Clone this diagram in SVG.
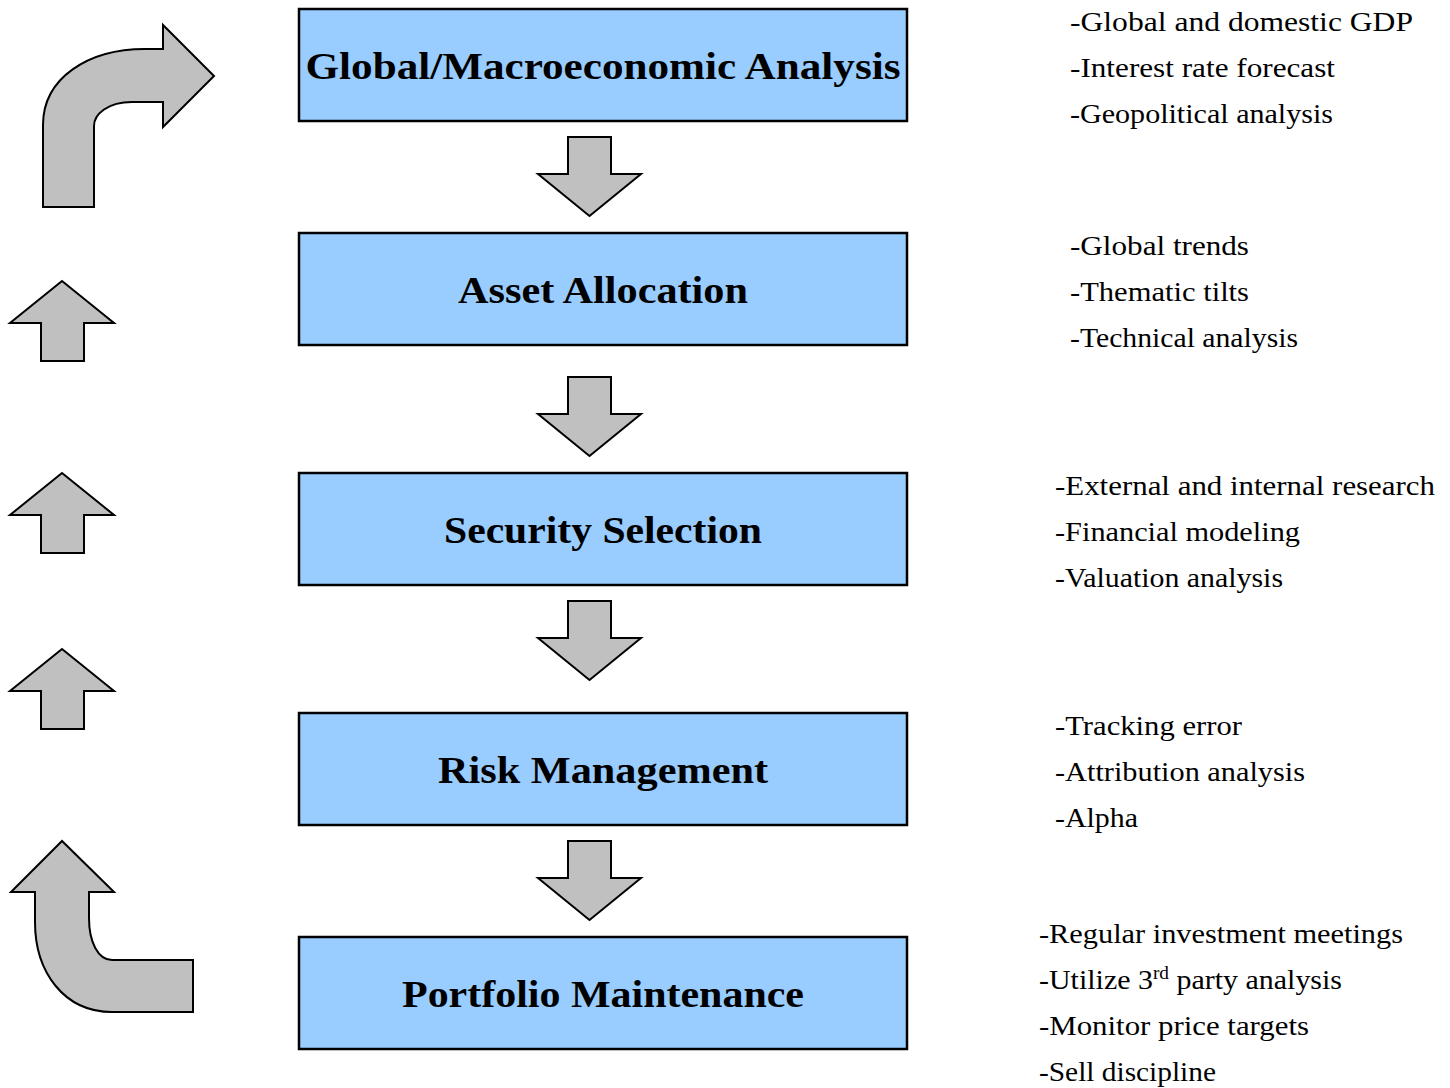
<svg xmlns="http://www.w3.org/2000/svg" width="1450" height="1088" viewBox="0 0 1450 1088">
  <style>
    .box { fill: #99ccff; stroke: #000; stroke-width: 2.5; }
    .arrow { fill: #c0c0c0; stroke: #000; stroke-width: 2; stroke-linejoin: miter; }
    .title { font-family: "Liberation Serif", "Times New Roman", serif; font-weight: bold; font-size: 38px; fill: #000; text-anchor: middle; }
    .note { font-family: "Liberation Serif", "Times New Roman", serif; font-size: 28px; fill: #000; }
  </style>
  <defs>
    <!-- block arrow pointing down, origin at top-left of the shaft -->
    <polygon id="downArrow" points="0,0 43,0 43,37 73,37 21.5,79 -30,37 0,37"/>
    <!-- block arrow pointing up, origin at the tip -->
    <polygon id="upArrow" points="0,0 52,42 22,42 22,80 -21,80 -21,42 -52,42"/>
  </defs>
  <rect width="1450" height="1088" fill="#fff"/>

  <!-- process steps -->
  <g id="step-macro">
    <rect class="box" x="299" y="9" width="608" height="112"/>
    <text class="title" x="603" y="79" textLength="595" lengthAdjust="spacingAndGlyphs">Global/Macroeconomic Analysis</text>
  </g>
  <g id="step-allocation">
    <rect class="box" x="299" y="233" width="608" height="112"/>
    <text class="title" x="603" y="303" textLength="290" lengthAdjust="spacingAndGlyphs">Asset Allocation</text>
  </g>
  <g id="step-selection">
    <rect class="box" x="299" y="473" width="608" height="112"/>
    <text class="title" x="603" y="543" textLength="318" lengthAdjust="spacingAndGlyphs">Security Selection</text>
  </g>
  <g id="step-risk">
    <rect class="box" x="299" y="713" width="608" height="112"/>
    <text class="title" x="603" y="783" textLength="330" lengthAdjust="spacingAndGlyphs">Risk Management</text>
  </g>
  <g id="step-maintenance">
    <rect class="box" x="299" y="937" width="608" height="112"/>
    <text class="title" x="603" y="1007" textLength="402" lengthAdjust="spacingAndGlyphs">Portfolio Maintenance</text>
  </g>

  <!-- connectors between steps and the feedback loop on the left -->
  <g id="connectors">
    <use href="#downArrow" class="arrow" x="568" y="137"/>
    <use href="#downArrow" class="arrow" x="568" y="377"/>
    <use href="#downArrow" class="arrow" x="568" y="601"/>
    <use href="#downArrow" class="arrow" x="568" y="841"/>

    <use href="#upArrow" class="arrow" x="62" y="281"/>
    <use href="#upArrow" class="arrow" x="62" y="473"/>
    <use href="#upArrow" class="arrow" x="62" y="649"/>

    <!-- bent arrow, top: up then right -->
    <path class="arrow" d="M43,207 L43,125 C43,78 88,49 145,49 L163,49 L163,25 L214,76 L163,127 L163,102 L132,102 C108,102 94,114 94,126 L94,207 Z"/>
    <!-- bent arrow, bottom: left then up -->
    <path class="arrow" d="M193,1012 L112,1012 C64,1012 35,972 35,922 L35,892 L11,892 L62,841 L114,892 L89,892 L89,918 C89,942 98,960 112,960 L193,960 Z"/>
  </g>

  <!-- notes beside each step -->
  <g id="notes-macro" class="note">
    <text x="1070" y="31" textLength="343" lengthAdjust="spacingAndGlyphs">-Global and domestic GDP</text>
    <text x="1070" y="77" textLength="265" lengthAdjust="spacingAndGlyphs">-Interest rate forecast</text>
    <text x="1070" y="123" textLength="263" lengthAdjust="spacingAndGlyphs">-Geopolitical analysis</text>
  </g>
  <g id="notes-allocation" class="note">
    <text x="1070" y="255" textLength="179" lengthAdjust="spacingAndGlyphs">-Global trends</text>
    <text x="1070" y="301" textLength="179" lengthAdjust="spacingAndGlyphs">-Thematic tilts</text>
    <text x="1070" y="347" textLength="228" lengthAdjust="spacingAndGlyphs">-Technical analysis</text>
  </g>
  <g id="notes-selection" class="note">
    <text x="1055" y="495" textLength="380" lengthAdjust="spacingAndGlyphs">-External and internal research</text>
    <text x="1055" y="541" textLength="245" lengthAdjust="spacingAndGlyphs">-Financial modeling</text>
    <text x="1055" y="587" textLength="228" lengthAdjust="spacingAndGlyphs">-Valuation analysis</text>
  </g>
  <g id="notes-risk" class="note">
    <text x="1055" y="735" textLength="187" lengthAdjust="spacingAndGlyphs">-Tracking error</text>
    <text x="1055" y="781" textLength="250" lengthAdjust="spacingAndGlyphs">-Attribution analysis</text>
    <text x="1055" y="827" textLength="83" lengthAdjust="spacingAndGlyphs">-Alpha</text>
  </g>
  <g id="notes-maintenance" class="note">
    <text x="1039" y="943" textLength="364" lengthAdjust="spacingAndGlyphs">-Regular investment meetings</text>
    <text x="1039" y="989" textLength="303" lengthAdjust="spacingAndGlyphs">-Utilize 3<tspan font-size="18" dy="-10">rd</tspan><tspan dy="10"> party analysis</tspan></text>
    <text x="1039" y="1035" textLength="270" lengthAdjust="spacingAndGlyphs">-Monitor price targets</text>
    <text x="1039" y="1081" textLength="177" lengthAdjust="spacingAndGlyphs">-Sell discipline</text>
  </g>
</svg>
